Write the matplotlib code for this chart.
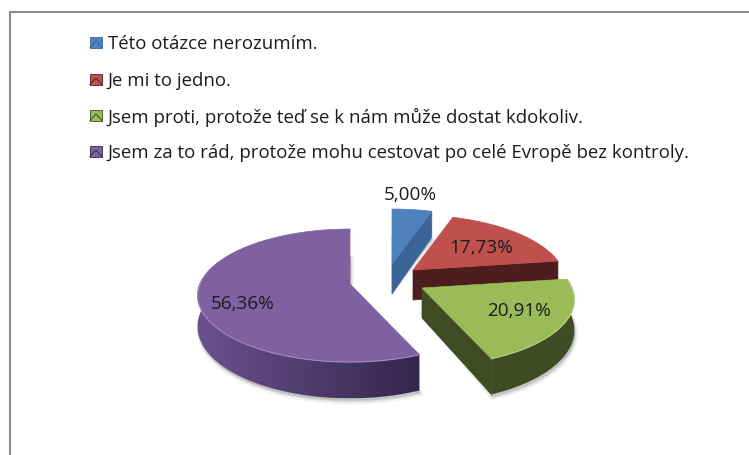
import numpy as np
import matplotlib
matplotlib.use("Agg")
import matplotlib.pyplot as plt
from matplotlib.patches import Polygon, Rectangle
from matplotlib.colors import LinearSegmentedColormap

categories = ["Této otázce nerozumím.", "Je mi to jedno.",
              "Jsem proti, protože teď se k nám může dostat kdokoliv.",
              "Jsem za to rád, protože mohu cestovat po celé Evropě bez kontroly."]
values = [5.00, 17.73, 20.91, 56.36]
top_colors = ["#4f81bd", "#c0504d", "#9bbb59", "#7f60a0"]
face_colors = ["#3b6596", "#4e1e1e", "#3f4b22", "#3a2a4e"]
wall_light = ["#3b6596", "#6a2a28", "#3f4b22", "#6c5090"]
wall_dark = ["#3b6596", "#4e1e1e", "#3f4b22", "#33264a"]
apexes = [(392, 265), (413, 271), (422, 289), (350, 285)]
label_pos = [(410, 195), (481, 248), (519, 311), (243, 304)]
legend_y = [44, 81, 117, 153]

RX, RY, K, DEPTH = 150, 64.5, 0.173, 30

fig = plt.figure(figsize=(7.49, 4.56), dpi=100)
ax = fig.add_axes([0, 0, 1, 1])
ax.axis("off")

ax.plot([10, 10, 749], [456, 13, 13], color="#8a8a8a", lw=1.5, solid_joinstyle="miter")


def project(theta, apex):
    s = 1 / (1 + K * np.cos(theta))
    return apex[0] + RX * np.sin(theta) * s, apex[1] - RY * np.cos(theta) * s, DEPTH * s


edges = np.deg2rad(np.concatenate([[0], np.cumsum(values)]) * 3.6)


def shadow(t0, t1, apex):
    t = np.linspace(t0, t1, 80)
    x, y, d = project(t, apex)
    pts = np.column_stack([np.r_[apex[0], x], np.r_[apex[1] + DEPTH - 8, y + d]])
    for grow, alpha in [(5, 0.04), (3.5, 0.05), (2, 0.07)]:
        ax.add_patch(Polygon(pts + [grow * 0.3, grow * 0.8], closed=True, fc="black",
                             ec="black", lw=grow * 0.7, alpha=alpha, zorder=1))


def slice3d(i, z):
    t0, t1, apex = edges[i], edges[i + 1], apexes[i]
    t = np.linspace(t0, t1, 160)
    x, y, d = project(t, apex)
    # cut face at the clockwise end of the slice
    if np.sin(t1) > 0.01:
        xe, ye, de = project(t1, apex)
        ax.add_patch(Polygon([apex, (xe, ye), (xe, ye + de), (apex[0], apex[1] + DEPTH)],
                             closed=True, fc=face_colors[i], ec=face_colors[i], lw=0.5, zorder=z))
    # outer wall with a horizontal gradient, clipped to the wall outline
    m = np.cos(t) < 0.12
    if m.any():
        xs, ys, ds = x[m], y[m], d[m]
        outline = Polygon(np.column_stack([np.r_[xs, xs[::-1]], np.r_[ys, (ys + ds)[::-1]]]),
                          closed=True, fc="none", ec="none", transform=ax.transData)
        ax.add_patch(outline)
        cmap = LinearSegmentedColormap.from_list("wall", [wall_light[i], wall_dark[i]])
        im = ax.imshow(np.linspace(0, 1, 256)[None, :], cmap=cmap, aspect="auto",
                       extent=(xs.min(), xs.max(), (ys + ds).max(), ys.min()), zorder=z,
                       interpolation="bilinear")
        im.set_clip_path(outline)
        ax.plot(xs, ys + ds, color=wall_dark[i], lw=0.4, alpha=0.4, zorder=z)
    # top face
    ax.add_patch(Polygon(np.column_stack([np.r_[apex[0], x], np.r_[apex[1], y]]),
                         closed=True, fc=top_colors[i], ec=top_colors[i], lw=0.5, zorder=z + 0.1))
    # rim highlight
    r = np.cos(t) < 0.1
    if r.any():
        ax.plot(x[r], y[r], color=top_colors[i], lw=0.9, zorder=z + 0.2)
        ax.plot(x[r], y[r], color="white", lw=0.7, alpha=0.3, zorder=z + 0.2)


for i in range(4):
    shadow(edges[i], edges[i + 1], apexes[i])
for i, z in zip([0, 1, 3, 2], [2, 3, 4, 5]):
    slice3d(i, z)

for v, (lx, ly) in zip(values, label_pos):
    ax.text(lx, ly, f"{v:.2f}%".replace(".", ","), ha="center", va="center",
            fontsize=13.6, family="Open Sans", color="#1c1c1c", zorder=10)

for name, c, d, ly in zip(categories, top_colors, wall_dark, legend_y):
    ax.add_patch(Rectangle((90, ly - 6.5), 12, 11, fc=c, ec=d, lw=0.6))
    ax.plot([90, 96, 102], [ly + 4.5, ly - 2, ly + 4.5], color=d, lw=1.0, alpha=0.7)
    ax.text(108, ly, name, ha="left", va="center", fontsize=13.4, family="Open Sans", color="#1c1c1c")

ax.set_xlim(0, 749)
ax.set_ylim(456, 0)
fig.savefig("out.png", dpi=100)
